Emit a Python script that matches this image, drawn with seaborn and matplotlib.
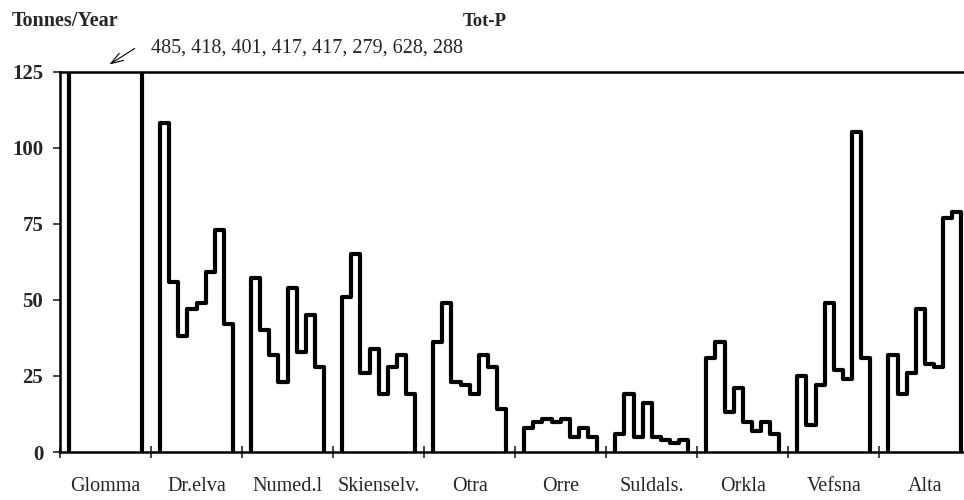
import matplotlib
matplotlib.use('Agg')
import matplotlib.pyplot as plt
import seaborn as sns
import pandas as pd
import numpy as np

# Tot-P transport per river, 8 years each (tonnes/year)
rivers = ['Glomma', 'Dr.elva', 'Numed.l', 'Skienselv.', 'Otra',
          'Orre', 'Suldals.', 'Orkla', 'Vefsna', 'Alta']
glomma = [485, 418, 401, 417, 417, 279, 628, 288]
drelva = [108, 56, 38, 47, 49, 59, 73, 42]
numedal = [57, 40, 32, 23, 54, 33, 45, 28]
skienselv = [51, 65, 26, 34, 19, 28, 32, 19]
otra = [36, 49, 23, 22, 19, 32, 28, 14]
orre = [8, 10, 11, 10, 11, 5, 8, 5]
suldal = [6, 19, 5, 16, 5, 4, 3, 4]
orkla = [31, 36, 13, 21, 10, 7, 10, 6]
vefsna = [25, 9, 22, 49, 27, 24, 105, 31]
alta = [32, 19, 26, 47, 29, 28, 77, 79]
series = [glomma, drelva, numedal, skienselv, otra, orre, suldal, orkla, vefsna, alta]
glomma_note = '485, 418, 401, 417, 417, 279, 628, 288'

sns.set_style('ticks')
plt.rcParams['font.family'] = ['Liberation Serif', 'DejaVu Serif']

fig = plt.figure(figsize=(9.64, 5.0), dpi=100)
ax = fig.add_axes([0.0622, 0.096, 0.9378, 0.761])

# build step outlines: drop to zero at both ends of each river block
rows = []
for i, (name, vals) in enumerate(zip(rivers, series)):
    start = i * 10 + 1
    xs = [start] + [start + k for k in range(8)] + [start + 8, start + 8]
    ys = [0] + list(vals) + [vals[-1], 0]
    for order, (xv, yv) in enumerate(zip(xs, ys)):
        rows.append({'river': name, 'order': order, 'x': xv, 'y': yv})
df = pd.DataFrame(rows)

for name in rivers:
    sub = df[df['river'] == name]
    sns.lineplot(x='x', y='y', data=sub, sort=False, estimator=None,
                 drawstyle='steps-post', color='black', lw=3.0, ax=ax)

ax.set_xlim(0, 99.3)
ax.set_ylim(0, 125)
ax.set_xlabel('')
ax.set_ylabel('')

for s in ['left', 'bottom', 'top']:
    ax.spines[s].set_linewidth(1.8)
    ax.spines[s].set_color('black')
ax.spines['right'].set_visible(False)

ax.set_yticks([0, 25, 50, 75, 100, 125])
ax.set_yticklabels(['0', '25', '50', '75', '100', '125'],
                   fontsize=15, fontweight='bold')
ax.tick_params(axis='y', direction='out', length=5, width=1.2, pad=7)

ax.set_xticks(np.arange(0, 100, 10))
ax.set_xticklabels([])
ax.set_xticks(np.arange(5, 100, 10), minor=True)
ax.set_xticklabels(rivers, minor=True, fontsize=14.5)
ax.tick_params(axis='x', which='major', direction='inout', length=9, width=1.2)
ax.tick_params(axis='x', which='minor', length=0, pad=18)

fig.text(0.012, 0.958, 'Tonnes/Year', fontsize=14.5, fontweight='bold', va='center')
fig.text(0.503, 0.958, 'Tot-P', fontsize=13.5, fontweight='bold', va='center', ha='center')
fig.text(0.157, 0.903, glomma_note, fontsize=14.5, va='center')
fig.add_artist(matplotlib.patches.FancyArrowPatch(
    (137 / 964, 1 - 47 / 500), (107 / 964, 1 - 66 / 500),
    transform=fig.transFigure, arrowstyle='->,head_length=9,head_width=3',
    color='black', lw=0.8))

fig.savefig('out.png', dpi=100)
